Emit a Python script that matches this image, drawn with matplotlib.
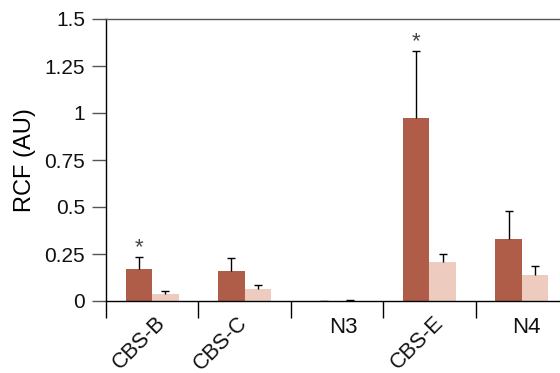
import matplotlib.pyplot as plt
import numpy as np

plt.rcParams['font.family'] = ['Liberation Sans', 'DejaVu Sans']

categories = ['CBS-B', 'CBS-C', 'N3', 'CBS-E', 'N4']
dark_vals = [0.17, 0.16, 0.002, 0.972, 0.328]
dark_err = [0.062, 0.067, 0.0, 0.356, 0.151]
light_vals = [0.037, 0.064, 0.002, 0.207, 0.138]
light_err = [0.016, 0.019, 0.004, 0.041, 0.047]
label_rot = [45, 45, 0, 45, 0]
stars = [True, False, False, True, False]

dark_color = '#AF5C48'
light_color = '#EDCBBE'

fig = plt.figure(figsize=(5.6, 3.73), dpi=100)
ax = fig.add_axes([106 / 560, (373 - 301) / 373, 462 / 560, 282 / 373])

x = np.arange(len(categories)) + 0.5
w = 0.285
ax.bar(x - w / 2, dark_vals, w, color=dark_color, zorder=2)
ax.bar(x + w / 2, light_vals, w, color=light_color, zorder=2)
for xs, vals, errs in [(x - w / 2, dark_vals, dark_err), (x + w / 2, light_vals, light_err)]:
    eb = ax.errorbar(xs, vals, yerr=[np.zeros(5), errs], fmt='none',
                     ecolor='black', elinewidth=1.0, capsize=2.6, capthick=1.0, zorder=3)
    # only keep the upper cap
    eb[1][0].set_visible(False)

for xi, v, e, s in zip(x, dark_vals, dark_err, stars):
    if s:
        ax.text(xi - w / 2, v + e - 0.005, '*', ha='center', va='bottom',
                fontsize=16, color='#444444')

ax.set_xlim(0, 5)
ax.set_ylim(0, 1.5)
ax.set_yticks([0, 0.25, 0.5, 0.75, 1, 1.25, 1.5])
ax.set_yticklabels(['0', '0.25', '0.5', '0.75', '1', '1.25', '1.5'])
ax.tick_params(axis='y', labelsize=15, length=10, width=1, color='#555555',
               pad=5, labelcolor='#111111')

ax.set_xticks(np.arange(0, 6))
ax.set_xticklabels([])
ax.tick_params(axis='x', length=12, width=1, direction='out')

label_dx = [0.03, -0.08, 0.07, 0.04, 0.05]
for xi, lab, r, dx in zip(x, categories, label_rot, label_dx):
    if r:
        ax.text(xi + dx, -0.058, lab, rotation=45, ha='right', va='top',
                rotation_mode='anchor', fontsize=15.5, color='#111111',
                clip_on=False)
    else:
        ax.text(xi + dx, -0.085, lab, ha='center', va='top', fontsize=16,
                color='#111111', clip_on=False)

ax.set_ylabel('RCF (AU)', fontsize=17, labelpad=6)
ax.spines['right'].set_visible(False)
ax.spines['top'].set_color('#555555')
for sp in ['left', 'bottom', 'top']:
    ax.spines[sp].set_linewidth(1.0)

fig.savefig('out.png', dpi=100)
